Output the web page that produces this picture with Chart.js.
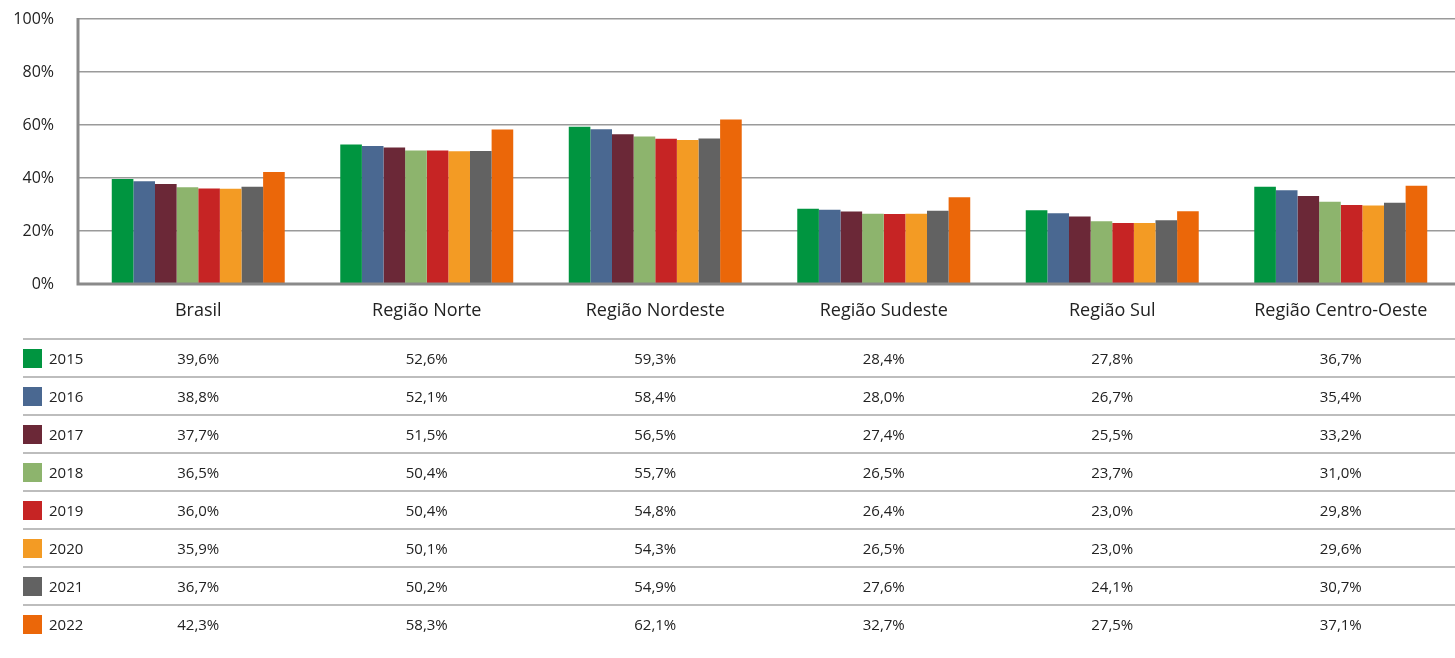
<!DOCTYPE html>
<html lang="pt-BR">
<head>
<meta charset="utf-8">
<title>Regiões 2015-2022</title>
<script src="https://cdn.jsdelivr.net/npm/chart.js@4/dist/chart.umd.min.js"></script>
<style>
  html, body { margin: 0; padding: 0; background: #fff; }
  #wrap { width: 1455px; height: 658px; position: relative; }
</style>
</head>
<body>
<div id="wrap"><canvas id="grafico" width="1455" height="658"></canvas></div>
<script>
const regioes = ['Brasil', 'Região Norte', 'Região Nordeste', 'Região Sudeste', 'Região Sul', 'Região Centro-Oeste'];
const anos = ['2015', '2016', '2017', '2018', '2019', '2020', '2021', '2022'];
const cores = ['#009540', '#4a6891', '#6b2837', '#8db46d', '#c62424', '#f39b24', '#626262', '#eb6709'];
const ticksY = [0, 20, 40, 60, 80, 100];

const v2015 = [39.6, 52.6, 59.3, 28.4, 27.8, 36.7];
const v2016 = [38.8, 52.1, 58.4, 28.0, 26.7, 35.4];
const v2017 = [37.7, 51.5, 56.5, 27.4, 25.5, 33.2];
const v2018 = [36.5, 50.4, 55.7, 26.5, 23.7, 31.0];
const v2019 = [36.0, 50.4, 54.8, 26.4, 23.0, 29.8];
const v2020 = [35.9, 50.1, 54.3, 26.5, 23.0, 29.6];
const v2021 = [36.7, 50.2, 54.9, 27.6, 24.1, 30.7];
const v2022 = [42.3, 58.3, 62.1, 32.7, 27.5, 37.1];
const valores = [v2015, v2016, v2017, v2018, v2019, v2020, v2021, v2022];

const fonte = '"Open Sans", "Noto Sans", sans-serif';
const recuoEixo = 6; // o eixo vertical fica um pouco à esquerda da primeira categoria

function formata(v) {
    return v.toFixed(1).replace('.', ',') + '%';
}

// linhas dos eixos, desenhadas por cima das barras
const eixos = {
    id: 'eixos',
    afterDatasetsDraw(chart) {
        const ctx = chart.ctx;
        const area = chart.chartArea;
        ctx.save();
        ctx.strokeStyle = '#8a8a8a';
        ctx.lineWidth = 3;
        ctx.beginPath();
        ctx.moveTo(area.left - recuoEixo, area.top - 1);
        ctx.lineTo(area.left - recuoEixo, area.bottom);
        ctx.lineTo(area.right, area.bottom);
        ctx.stroke();
        ctx.restore();
    }
};

// tabela de dados abaixo do gráfico, alinhada às categorias do eixo x
const tabela = {
    id: 'tabela',
    afterDraw(chart) {
        const ctx = chart.ctx;
        const x = chart.scales.x;
        const topo = chart.chartArea.bottom + 55;
        const alturaLinha = 38;
        ctx.save();
        for (let i = 0; i < anos.length; i++) {
            const y = topo + i * alturaLinha;
            ctx.strokeStyle = '#bdbdbd';
            ctx.lineWidth = 2;
            ctx.beginPath();
            ctx.moveTo(23, y);
            ctx.lineTo(chart.width, y);
            ctx.stroke();

            ctx.fillStyle = cores[i];
            ctx.fillRect(23, y + 10, 19, 19);

            ctx.fillStyle = '#222';
            ctx.font = '15px ' + fonte;
            ctx.textBaseline = 'middle';
            ctx.textAlign = 'left';
            ctx.fillText(anos[i], 49, y + 21);

            ctx.textAlign = 'center';
            for (let j = 0; j < regioes.length; j++) {
                ctx.fillText(formata(valores[i][j]), x.getPixelForValue(j), y + 21);
            }
        }
        ctx.restore();
    }
};

const ctx = document.getElementById('grafico');

new Chart(ctx, {
    type: 'bar',
    data: {
        labels: regioes,
        datasets: anos.map(function (ano, i) {
            return {
                label: ano,
                data: valores[i],
                backgroundColor: cores[i],
                borderWidth: 0,
                categoryPercentage: 0.757,
                barPercentage: 1
            };
        })
    },
    options: {
        responsive: false,
        animation: false,
        maintainAspectRatio: false,
        layout: { padding: { top: 19, left: 0, right: 0, bottom: 0 } },
        plugins: {
            legend: { display: false },
            tooltip: { enabled: false }
        },
        scales: {
            x: {
                grid: { display: false, drawTicks: false },
                border: { display: false },
                ticks: {
                    color: '#222',
                    font: { family: fonte, size: 18 },
                    padding: 16,
                    maxRotation: 0
                },
                afterFit(scale) {
                    scale.height = 374;
                    scale.paddingLeft = 0;
                    scale.paddingRight = 0;
                }
            },
            y: {
                min: 0,
                max: 100,
                afterBuildTicks(scale) {
                    scale.ticks = ticksY.map(function (v) { return { value: v }; });
                },
                grid: { color: '#9a9a9a', lineWidth: 1.5, drawTicks: true, tickLength: recuoEixo },
                border: { display: false },
                ticks: {
                    color: '#222',
                    font: { family: fonte, size: 16 },
                    padding: 30 - recuoEixo,
                    callback: function (v) { return v + '%'; }
                },
                afterFit(scale) {
                    scale.width = 84;
                    scale.paddingTop = 0;
                    scale.paddingBottom = 0;
                }
            }
        }
    },
    plugins: [eixos, tabela]
});
</script>
</body>
</html>
